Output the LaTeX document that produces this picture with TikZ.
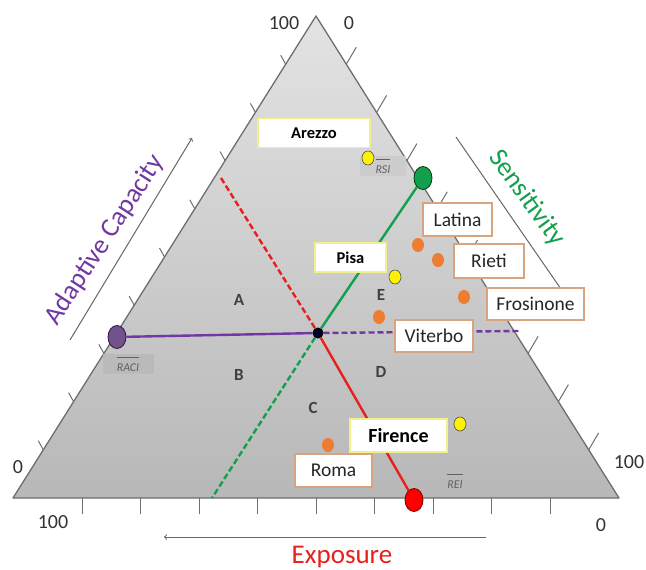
\documentclass[tikz,border=0pt]{standalone}
\usepackage{fontspec}
\setmainfont{Carlito}
\usetikzlibrary{shapes.geometric}
\definecolor{expred}{HTML}{E8201A}
\definecolor{sensgreen}{HTML}{12A04E}
\definecolor{adapurple}{HTML}{7038A0}
\definecolor{dotorange}{HTML}{ED7D31}
\definecolor{boxyellow}{HTML}{F0F08C}
\definecolor{boxorange}{HTML}{D8A47F}
\definecolor{tickgray}{HTML}{6E6E6E}
\begin{document}
\begin{tikzpicture}[x=1pt,y=-1pt,
  citybox/.style={draw=boxorange,line width=1.2pt,fill=white,minimum height=33pt,inner sep=0pt,text=black!85,font=\fontsize{19.5}{19.5}\selectfont},
  citybold/.style={draw=boxyellow,line width=1.6pt,fill=white,minimum height=29pt,inner sep=0pt,font=\bfseries\fontsize{16.5}{16.5}\selectfont},
  odot/.style={ellipse,fill=dotorange,minimum width=12pt,minimum height=14pt,inner sep=0pt},
  ydot/.style={ellipse,draw=black!70,fill=yellow,line width=0.6pt,minimum width=12pt,minimum height=14pt,inner sep=0pt},
  bigdot/.style={ellipse,line width=0.8pt,minimum width=18pt,minimum height=23pt,inner sep=0pt},
  zone/.style={text=black!75,font=\bfseries\fontsize{17}{17}\selectfont},
  meanlbl/.style={text=black!62,inner sep=2pt,font=\itshape\fontsize{12}{12}\selectfont},
  tlabel/.style={text=black!80,font=\fontsize{20}{20}\selectfont},
  axislbl/.style={font=\fontsize{27}{27}\selectfont},
  fullline/.style={line width=2.4pt},
  halfline/.style={line width=2.4pt,dash pattern=on 6pt off 3pt}]
\useasboundingbox (0,0) rectangle (646,570);
\coordinate (top) at (316,16); \coordinate (bl) at (13,498); \coordinate (br) at (619,498);
\shade[top color=black!11,bottom color=black!28] (top) -- (bl) -- (br) -- cycle;
\draw[tickgray,line width=1.3pt,line join=round] (top) -- (bl) -- (br) -- cycle;
\foreach \k in {1,...,9}{ % ticks on the two slanted sides
\draw[shift={(316-30.3*\k,16+48.2*\k)},tickgray,line width=1pt] (0,0) -- (-5,-9);
\draw[shift={(316+30.3*\k,16+48.2*\k)},tickgray,line width=1pt] (0,0) -- (10,-17);}
\foreach \k in {0,...,8} % ticks under the base
\draw[shift={(82+58.5*\k,498)},tickgray,line width=1pt] (0,0) -- (0,16);
% axis arrows and names
\coordinate (acstart) at (70,340); \coordinate (acend) at (192,138);
\draw[->,black!60,line width=1pt] (acstart) -- (acend);
\coordinate (snstart) at (456,137); \coordinate (snend) at (572,305);
\draw[black!60,line width=1pt] (snstart) -- (snend);
\coordinate (exstart) at (486,537); \coordinate (exend) at (164,537);
\draw[->,black!60,line width=1pt] (exstart) -- (exend);
\node[axislbl,text=adapurple,rotate=57] (adapt) at (105,240) {Adaptive Capacity};
\node[axislbl,text=sensgreen,rotate=-54] (sens) at (527,198) {Sensitivity};
\node[axislbl,text=expred] (expo) at (342,557) {Exposure};
\node[tlabel] (top100) at (284,23) {100}; \node[tlabel] (top0) at (349,23) {0};
\node[tlabel] (left0) at (18,467) {0}; \node[tlabel] (base100) at (53,522) {100};
\node[tlabel] (right100) at (629,462) {100}; \node[tlabel] (base0) at (601,525) {0};
% zones
\node[zone] (zA) at (239,300) {A}; \node[zone] (zB) at (239,375) {B};
\node[zone] (zC) at (313,408) {C}; \node[zone] (zD) at (381,372) {D};
\node[zone] (zE) at (381,295) {E};
% mean values
\node[meanlbl,fill=black!27,minimum width=51pt] (raci) at (128,364) {$\overline{\rule{0pt}{13pt}\mbox{RACI}}$};
\node[meanlbl,fill=black!20,minimum width=46pt] (rsi) at (383,166) {$\overline{\rule{0pt}{13pt}\mbox{RSI}}$};
\node[meanlbl] (rei) at (455,481) {$\overline{\rule{0pt}{13pt}\mbox{REI}}$};
\node[bigdot,fill=sensgreen,draw=green!25!black] (gdot) at (423,178) {};
\node[bigdot,fill=red,draw=red!45!black] (rdot) at (414,500) {};
\node[bigdot,fill=adapurple!70!black!80,draw=adapurple!40!black] (pdot) at (117,337) {};
\node[circle,fill=blue!15!black,draw=black,line width=1pt,minimum size=10pt,inner sep=0pt] (mid) at (318,333) {};
\coordinate (gend) at (212,498); \coordinate (rend) at (221,178); \coordinate (pend) at (519,331);
\draw[fullline,sensgreen] (gdot) -- (mid); \draw[halfline,sensgreen] (mid) -- (gend);
\draw[halfline,expred] (rend) -- (mid); \draw[fullline,expred] (mid) -- (rdot);
\draw[fullline,adapurple] (pdot) -- (mid); \draw[halfline,adapurple] (mid) -- (pend);
% provinces
\node[citybold,minimum width=112pt] (arezzo) at (314,133) {Arezzo};
\node[citybold,minimum width=71pt] (pisa) at (350.5,257.5) {Pisa};
\node[citybold,minimum width=97pt,minimum height=33pt,font=\bfseries\fontsize{20}{20}\selectfont] (firence) at (398.5,435.5) {Firence};
\node[citybox,minimum width=69pt] (latina) at (457.5,219.5) {Latina};
\node[citybox,minimum width=70pt,minimum height=34pt] (rieti) at (489,261) {Rieti};
\node[citybox,minimum width=97pt,minimum height=32pt] (frosinone) at (535.5,304) {Frosinone};
\node[citybox,minimum width=78pt,minimum height=32pt] (viterbo) at (434,336) {Viterbo};
\node[citybox,minimum width=77pt] (roma) at (333.5,470.5) {Roma};
\node[ydot] (yarezzo) at (368,158) {}; \node[ydot] (ypisa) at (395,277) {};
\node[ydot] (yfirence) at (460,424) {};
\node[odot] (olatina) at (418,245) {}; \node[odot] (orieti) at (438,260) {};
\node[odot] (ofrosinone) at (464,297) {}; \node[odot] (oviterbo) at (379,317) {};
\node[odot] (oroma) at (328,445) {};
\end{tikzpicture}
\end{document}
